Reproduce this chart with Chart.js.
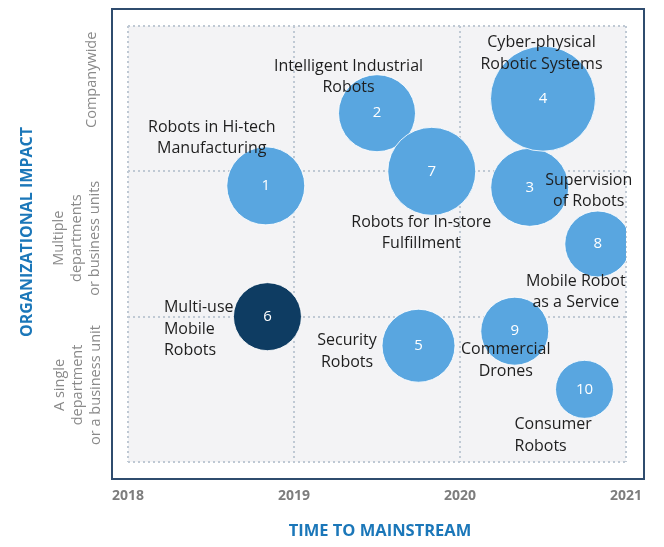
<!DOCTYPE html>
<html>
<head>
<meta charset="utf-8">
<script src="https://cdn.jsdelivr.net/npm/chart.js@4.4.0/dist/chart.umd.min.js"></script>
<style>
  html, body { margin: 0; padding: 0; background: #ffffff; }
  #wrap { width: 664px; height: 547px; }
</style>
</head>
<body>
<div id="wrap"><canvas id="c" width="664" height="547"></canvas></div>
<script>
// ---- data ----
const ids = [1, 2, 3, 4, 5, 6, 7, 8, 9, 10];
const names = [
  ["Robots in Hi-tech", "Manufacturing"],
  ["Intelligent Industrial", "Robots"],
  ["Supervision", "of Robots"],
  ["Cyber-physical", "Robotic Systems"],
  ["Security", "Robots"],
  ["Multi-use", "Mobile", "Robots"],
  ["Robots for In-store", "Fulfillment"],
  ["Mobile Robot", "as a Service"],
  ["Commercial", "Drones"],
  ["Consumer", "Robots"]
];
const timeToMainstream = [2018.83, 2019.50, 2020.42, 2020.50, 2019.75, 2018.84, 2019.83, 2020.83, 2020.33, 2020.75];
const organizationalImpact = [1.90, 2.40, 1.89, 2.50, 0.80, 1.00, 2.00, 1.50, 0.90, 0.50];
const bubbleSize = [39, 38.5, 39, 52.5, 36.5, 34, 44, 33, 34, 29];
const xTickYears = [2018, 2019, 2020, 2021];
const impactLevels = [
  ["A single", "department", "or a business unit"],
  ["Multiple", "departments", "or business units"],
  ["Companywide"]
];
const xTitle = "TIME TO MAINSTREAM";
const yTitle = "ORGANIZATIONAL IMPACT";

// ---- label placement (pixel offsets from bubble centre) ----
const labelPlace = [
  {dx: -54, dy: -58.5, align: "center"},
  {dx: -28.5, dy: -47, align: "center"},
  {dx: 59, dy: -7, align: "center"},
  {dx: -1.5, dy: -56, align: "center"},
  {dx: -71.5, dy: -5, align: "center"},
  {dx: -103.5, dy: -9, align: "left"},
  {dx: -10.5, dy: 51, align: "center"},
  {dx: -22, dy: 37, align: "center"},
  {dx: -9, dy: 18.5, align: "center"},
  {dx: -70, dy: 35.5, align: "left"}
];
const levelPlace = [
  {value: 0.53, xs: [60, 78, 96]},
  {value: 1.54, xs: [59, 77, 95]},
  {value: 2.63, xs: [92]}
];

const FONT = "'Open Sans', 'Noto Sans', sans-serif";
const LIGHT = "#59a6e0";
const DARK = "#0e3c62";

const points = ids.map((id, i) => ({x: timeToMainstream[i], y: organizationalImpact[i], r: bubbleSize[i]}));

const decor = {
  id: "decor",
  beforeDraw(chart) {
    const ctx = chart.ctx, a = chart.chartArea;
    ctx.save();
    ctx.fillStyle = "#ffffff";
    ctx.fillRect(0, 0, chart.width, chart.height);
    ctx.fillStyle = "#f3f3f5";
    ctx.fillRect(a.left, a.top, a.right - a.left, a.bottom - a.top);
    ctx.strokeStyle = "#2f4c6e";
    ctx.lineWidth = 2;
    ctx.strokeRect(a.left - 16, a.top - 17, (a.right - a.left) + 34, (a.bottom - a.top) + 34);
    ctx.restore();
  },
  afterDatasetsDraw(chart) {
    const ctx = chart.ctx;
    const meta = chart.getDatasetMeta(0);
    ctx.save();
    ctx.textBaseline = "middle";
    meta.data.forEach((el, i) => {
      ctx.fillStyle = "#ffffff";
      ctx.textAlign = "center";
      ctx.font = "15px " + FONT;
      ctx.fillText(String(ids[i]), el.x, el.y);
    });
    meta.data.forEach((el, i) => {
      const p = labelPlace[i];
      ctx.fillStyle = "#1e1e1e";
      ctx.textAlign = p.align;
      ctx.font = "16px " + FONT;
      names[i].forEach((line, k) => {
        ctx.fillText(line, el.x + p.dx, el.y + p.dy + k * 21.5);
      });
    });
    ctx.restore();
  },
  afterDraw(chart) {
    const ctx = chart.ctx, ys = chart.scales.y, xs = chart.scales.x;
    ctx.save();
    ctx.textBaseline = "middle";
    ctx.textAlign = "center";
    ctx.fillStyle = "#8a8a8a";
    ctx.font = "14.5px " + FONT;
    impactLevels.forEach((lines, i) => {
      const lp = levelPlace[i];
      const cy = ys.getPixelForValue(lp.value);
      lines.forEach((line, k) => {
        ctx.save();
        ctx.translate(lp.xs[k], cy);
        ctx.rotate(-Math.PI / 2);
        ctx.fillText(line, 0, 0);
        ctx.restore();
      });
    });
    ctx.fillStyle = "#1b77b9";
    ctx.font = "bold 16px " + FONT;
    ctx.save();
    ctx.translate(27, 232);
    ctx.rotate(-Math.PI / 2);
    ctx.fillText(yTitle, 0, 0);
    ctx.restore();
    ctx.font = "bold 16.5px " + FONT;
    ctx.fillText(xTitle, (xs.left + xs.right) / 2 + 3, 531);
    ctx.restore();
  }
};

new Chart(document.getElementById("c"), {
  type: "bubble",
  data: {
    datasets: [{
      data: points,
      backgroundColor: ids.map(id => id === 6 ? DARK : LIGHT),
      borderColor: "rgba(255,255,255,0.85)",
      borderWidth: 1,
      hoverRadius: 0,
      clip: 0
    }]
  },
  options: {
    responsive: false,
    animation: false,
    events: [],
    layout: {autoPadding: false, padding: {left: 0, top: 26, right: 38, bottom: 0}},
    plugins: {legend: {display: false}, tooltip: {enabled: false}},
    scales: {
      x: {
        type: "linear",
        min: xTickYears[0],
        max: xTickYears[xTickYears.length - 1],
        afterBuildTicks(scale) { scale.ticks = xTickYears.map(v => ({value: v})); },
        afterFit(scale) { scale.height = 85; scale.paddingLeft = 0; scale.paddingRight = 0; },
        border: {display: false, dash: [2, 3]},
        grid: {color: "#bfc9d4", lineWidth: 2, drawTicks: false},
        ticks: {
          padding: 26,
          color: "#7d7d7d",
          font: {family: FONT, size: 14, weight: "bold"},
          callback: v => String(v)
        }
      },
      y: {
        type: "linear",
        min: 0,
        max: 3,
        afterBuildTicks(scale) { scale.ticks = [0, 1, 2, 3].map(v => ({value: v})); },
        afterFit(scale) { scale.width = 128; },
        border: {display: false, dash: [2, 3]},
        grid: {color: "#bfc9d4", lineWidth: 2, drawTicks: false},
        ticks: {display: false}
      }
    }
  },
  plugins: [decor]
});
</script>
</body>
</html>
